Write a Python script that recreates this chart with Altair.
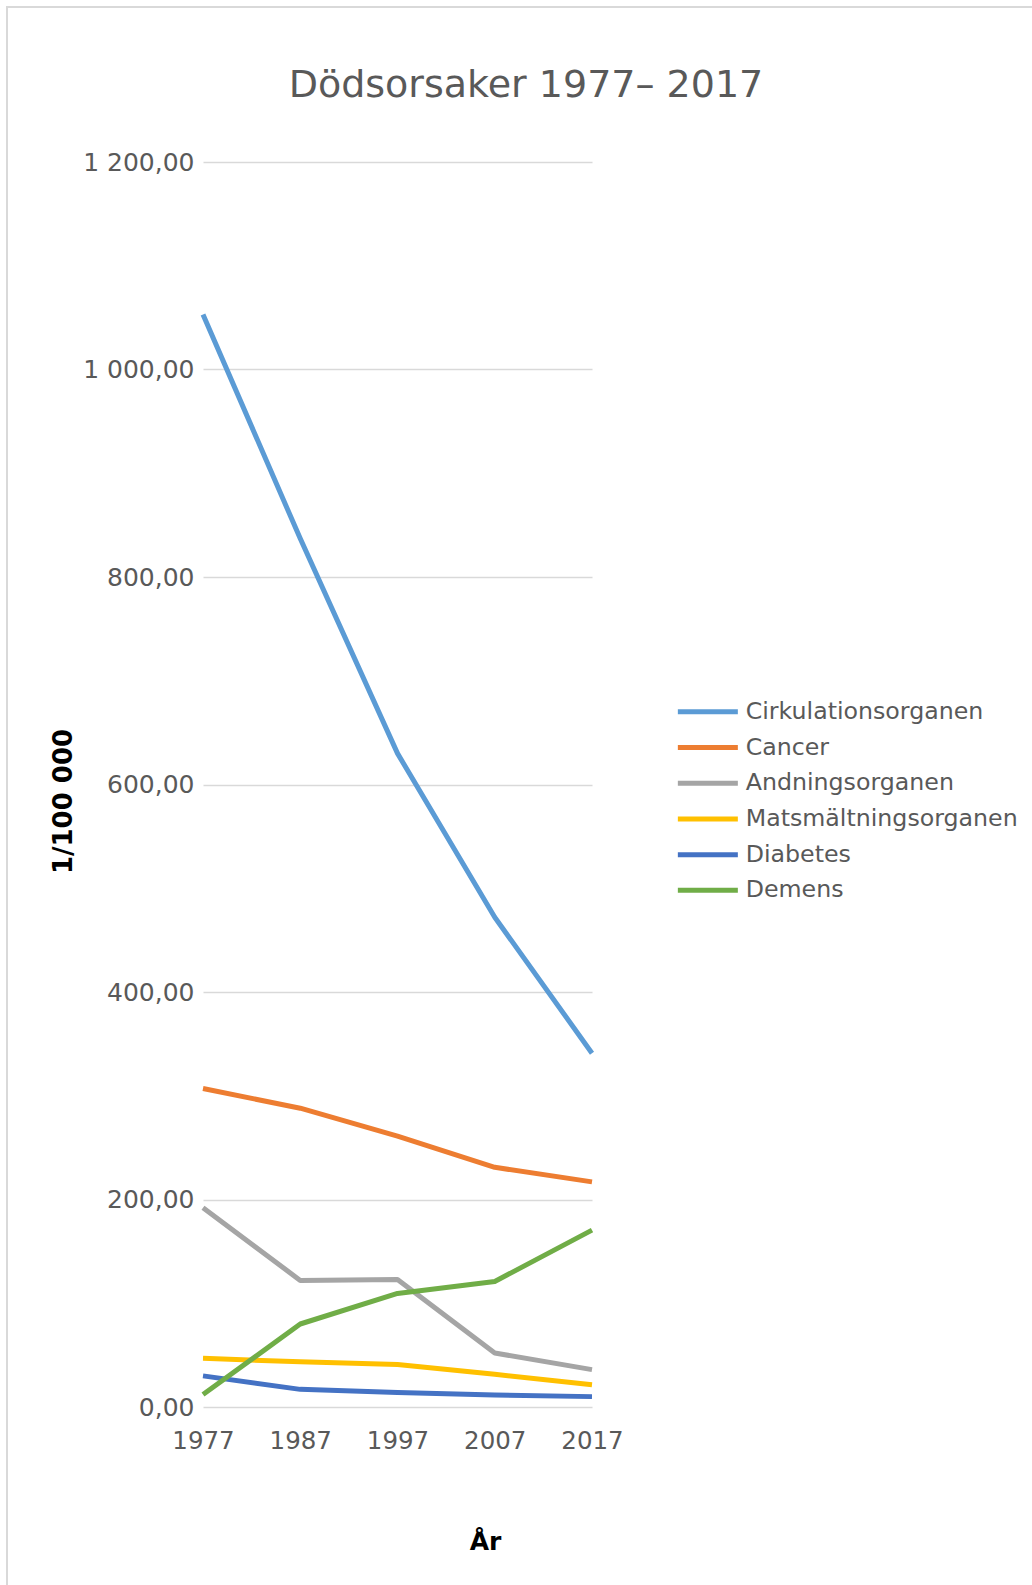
import altair as alt
import pandas as pd

years = [1977, 1987, 1997, 2007, 2017]
series_names = ["Cirkulationsorganen", "Cancer", "Andningsorganen",
                "Matsmältningsorganen", "Diabetes", "Demens"]
colors = ["#5B9BD5", "#ED7D31", "#A5A5A5", "#FFC000", "#4472C4", "#70AD47"]
title_text = ["Dödsorsaker 1977– 2017"]

cirkulation = [1053, 837, 630, 472, 341]
cancer = [307, 288, 261, 231, 217]
andning = [192, 122, 123, 52, 36]
matsmaltning = [47, 43.5, 41, 31.5, 21.5]
diabetes = [30, 17, 14, 11.5, 10]
demens = [12, 80, 109.5, 121, 170.5]

values = [cirkulation, cancer, andning, matsmaltning, diabetes, demens]

rows = []
for i, (name, vals) in enumerate(zip(series_names, values)):
    for y, v in zip(years, vals):
        rows.append({"År": y, "Värde": v, "Orsak": name, "ord": i})
df = pd.DataFrame(rows)

W, H = 389, 1245
PL, PT = 203, 162

lines = alt.Chart(df).mark_line(strokeWidth=5, strokeJoin="round").encode(
    x=alt.X("År:Q",
            scale=alt.Scale(domain=[1977, 2017], nice=False, zero=False),
            axis=alt.Axis(values=years, format="d", grid=False, domain=False,
                          ticks=False, labelFontSize=24.5, labelColor="#595959",
                          labelFont="DejaVu Sans", labelBaseline="alphabetic",
                          labelFlush=False, labelOverlap=False,
                          labelPadding=41, title="År", titleFontSize=25,
                          titleFont="DejaVu Sans", titleFontWeight="bold",
                          titleColor="#000000", titleX=282, titleY=134,
                          titleBaseline="middle", titleAlign="center")),
    y=alt.Y("Värde:Q",
            scale=alt.Scale(domain=[0, 1200], nice=False),
            axis=alt.Axis(values=[0, 200, 400, 600, 800, 1000, 1200],
                          labelExpr="replace(replace(format(datum.value, ',.2f'), ',', ' '), '.', ',')",
                          grid=True, gridColor="#D9D9D9", gridWidth=1.5,
                          domain=False, ticks=False, labelPadding=9,
                          labelFontSize=25, labelColor="#595959",
                          labelFont="DejaVu Sans", labelFlush=False,
                          labelOverlap=False, title="1/100 000",
                          titleFontSize=26, titleFont="DejaVu Sans",
                          titleFontWeight="bold", titleColor="#000000",
                          titleX=-140, titleY=639, titleAngle=270,
                          titleAlign="center", titleBaseline="middle")),
    color=alt.Color("Orsak:N",
                    scale=alt.Scale(domain=series_names, range=colors),
                    sort=series_names,
                    legend=alt.Legend(title=None, orient="none",
                                      legendX=493, legendY=538,
                                      symbolType="M-6,0H6", symbolSize=100,
                                      symbolStrokeWidth=5, labelOffset=26,
                                      rowPadding=10.7, labelFontSize=23.7,
                                      labelColor="#595959", labelLimit=500,
                                      labelFont="DejaVu Sans", padding=0)),
    order=alt.Order("ord:Q"),
)

border = alt.Chart(pd.DataFrame({"a": [0]})).mark_rect(
    fill=None, stroke="#D9D9D9", strokeWidth=2
).encode(
    x=alt.value(7 - PL), x2=alt.value(1100 - PL),
    y=alt.value(7 - PT), y2=alt.value(1700 - PT),
)

title = alt.Chart(pd.DataFrame({"t": title_text})).mark_text(
    fontSize=38, font="DejaVu Sans", color="#595959",
    align="center", baseline="alphabetic"
).encode(
    text="t:N", x=alt.value(526 - PL), y=alt.value(97 - PT)
)

chart = alt.layer(border, lines, title).properties(
    width=W, height=H,
    background="white",
    padding={"left": PL, "top": PT, "right": 1032 - PL - W, "bottom": 1585 - PT - H},
    autosize=alt.AutoSizeParams(type="none"),
).configure_view(stroke="transparent", strokeWidth=0)

chart.save("out.html", embed_options={"renderer": "svg", "actions": False})
